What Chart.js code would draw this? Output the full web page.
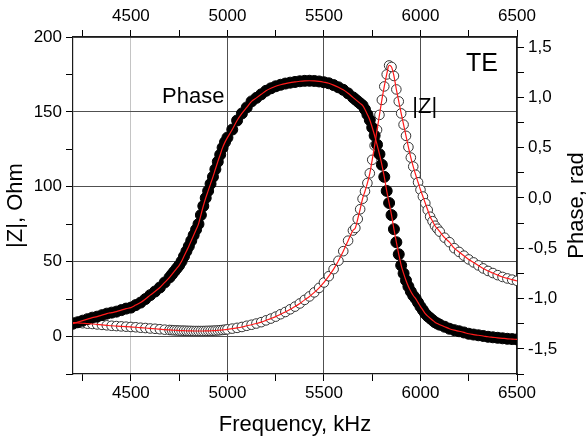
<!DOCTYPE html>
<html>
<head>
<meta charset="utf-8">
<script src="https://cdn.jsdelivr.net/npm/chart.js@4.4.1/dist/chart.umd.min.js"></script>
<style>
    html, body { margin: 0; padding: 0; background: #ffffff; }
    #chart { display: block; }
</style>
</head>
<body>
<canvas id="chart" width="587" height="440"></canvas>
<script>
// Frequency in kHz (x axis), finer steps where the curves are steep
const freqKHz = [
    4200, 4225, 4250, 4275, 4300, 4325, 4350, 4375, 4400, 4425, 4450, 4475,
    4500, 4525, 4550, 4575, 4600, 4625, 4650, 4675, 4700,
    4712.5, 4725, 4737.5, 4750, 4762.5, 4775, 4787.5, 4800, 4812.5, 4825, 4837.5, 4850,
    4862.5, 4875, 4887.5, 4900, 4912.5, 4925, 4937.5, 4950, 4962.5, 4975, 4987.5, 5000,
    5025, 5050, 5075, 5100, 5125, 5150, 5175, 5200, 5225, 5250, 5275, 5300, 5325,
    5350, 5375, 5400, 5425, 5450, 5475, 5500, 5525, 5550, 5575, 5600, 5625, 5650,
    5662.5, 5675, 5687.5, 5700, 5712.5, 5725, 5737.5, 5750, 5762.5, 5775, 5787.5, 5800,
    5812.5, 5825, 5837.5, 5850, 5862.5, 5875, 5887.5, 5900, 5912.5, 5925, 5937.5, 5950,
    5962.5, 5975, 5987.5, 6000, 6012.5, 6025, 6037.5, 6050, 6062.5, 6075, 6087.5, 6100,
    6125, 6150, 6175, 6200, 6225, 6250, 6275, 6300, 6325, 6350, 6375, 6400,
    6425, 6450, 6475, 6500
];

// |Z| in Ohm (left axis)
const zMagOhm = [
    9.4, 9.1, 8.9, 8.6, 8.4, 8.1, 7.8, 7.5, 7.2, 7.0, 6.8, 6.6,
    6.4, 6.2, 5.9, 5.7, 5.4, 5.2, 4.9, 4.6, 4.4,
    4.3, 4.2, 4.1, 4.0, 3.95, 3.9, 3.85, 3.8, 3.75, 3.7, 3.7, 3.7,
    3.7, 3.7, 3.75, 3.8, 3.85, 3.9, 4.0, 4.1, 4.25, 4.4, 4.6, 4.8,
    5.3, 5.8, 6.4, 7.2, 7.9, 8.7, 9.6, 10.8, 12.0, 13.3, 14.9, 16.4, 18.2,
    20.0, 22.1, 24.5, 26.8, 29.5, 32.5, 36.1, 40.3, 45.0, 50.6, 57.0, 64.0, 70.8,
    72.5, 78.5, 85, 92, 97, 102.5, 109, 118, 127.5, 138, 148, 158,
    167, 175, 181, 180, 174, 165, 157, 149, 141.5, 134, 126.5, 119.5,
    113.5, 108, 103, 98, 93.5, 89, 84.5, 80, 77, 74, 72, 70,
    66, 63, 59, 56.5, 54, 51.5, 49.5, 47.5, 45.5, 43.8, 42.4, 41,
    39.8, 38.8, 38, 37.2
];

// Phase in rad (right axis)
const phaseRad = [
    -1.25, -1.235, -1.22, -1.205, -1.19, -1.18, -1.165, -1.15, -1.14, -1.13, -1.115, -1.10,
    -1.09, -1.065, -1.04, -1.005, -0.966, -0.93, -0.89, -0.84, -0.79,
    -0.76, -0.73, -0.70, -0.67, -0.63, -0.58, -0.53, -0.48, -0.425, -0.37, -0.315, -0.26,
    -0.17, -0.08, 0.00, 0.07, 0.14, 0.21, 0.285, 0.36, 0.43, 0.50, 0.555, 0.60,
    0.68, 0.77, 0.84, 0.90, 0.96, 0.995, 1.03, 1.065, 1.09, 1.11, 1.125, 1.137, 1.146,
    1.153, 1.16, 1.164, 1.165, 1.163, 1.158, 1.15, 1.14, 1.122, 1.10, 1.075, 1.04, 1.00,
    0.98, 0.96, 0.94, 0.92, 0.88, 0.83, 0.775, 0.70, 0.62, 0.53, 0.435, 0.33,
    0.21, 0.07, -0.05, -0.17, -0.31, -0.44, -0.56, -0.67, -0.75, -0.82, -0.88, -0.93,
    -0.97, -1.00, -1.04, -1.08, -1.115, -1.15, -1.175, -1.195, -1.215, -1.235, -1.248, -1.26,
    -1.28, -1.30, -1.314, -1.325, -1.337, -1.35, -1.358, -1.365, -1.372, -1.38, -1.385, -1.39,
    -1.395, -1.40, -1.403, -1.406
];

// Tick positions (labels only on the major ones)
const freqTicks = [4250, 4500, 4750, 5000, 5250, 5500, 5750, 6000, 6250, 6500];
const zTicks = [-25, 0, 25, 50, 75, 100, 125, 150, 175, 200];
const phaseTicks = [-1.75, -1.5, -1.25, -1, -0.75, -0.5, -0.25, 0, 0.25, 0.5, 0.75, 1, 1.25, 1.5];

// Text labels inside the plot: [text, freq, |Z| value]
const plotLabels = [
    ['Phase', 4823, 160],
    ['|Z|', 6022, 153],
    ['TE', 6318, 182]
];

const FONT = "'Liberation Sans', Arial, sans-serif";

const zPoints = freqKHz.map((f, i) => ({ x: f, y: zMagOhm[i] }));
const phasePoints = freqKHz.map((f, i) => ({ x: f, y: phaseRad[i] }));

const setTicks = values => scale => { scale.ticks = values.map(v => ({ value: v })); };

const xLabel = v => (v % 500 === 0 ? String(v) : '');
const zLabel = v => (v >= 0 && v % 50 === 0 ? String(v) : '');
const phaseLabel = v => (Math.abs(v * 2 - Math.round(v * 2)) < 1e-6 ? v.toFixed(1).replace('.', ',') : '');

function xGridColor(ctx) {
    const v = ctx.tick ? ctx.tick.value : null;
    if (v === 4500) return '#c4c4c4';
    if (v !== null && v % 500 === 0) return '#505050';
    return 'rgba(0,0,0,0)';
}

function yGridColor(ctx) {
    const v = ctx.tick ? ctx.tick.value : null;
    if (v !== null && v >= 0 && v % 50 === 0) return '#505050';
    return 'rgba(0,0,0,0)';
}

// right axis title (reads bottom to top) and the labels inside the plot
const textPlugin = {
    id: 'textPlugin',
    afterDraw(chart) {
        const ctx = chart.ctx;
        const area = chart.chartArea;
        const xs = chart.scales.x;
        const ys = chart.scales.y;

        ctx.save();
        ctx.fillStyle = '#000';
        ctx.textAlign = 'center';
        ctx.textBaseline = 'middle';

        ctx.save();
        ctx.translate(577, (area.top + area.bottom) / 2);
        ctx.rotate(-Math.PI / 2);
        ctx.font = `22px ${FONT}`;
        ctx.fillText('Phase, rad', 0, 0);
        ctx.restore();

        plotLabels.forEach(([text, f, z]) => {
            ctx.font = (text === 'TE' ? '25px ' : '22px ') + FONT;
            ctx.fillText(text, xs.getPixelForValue(f), ys.getPixelForValue(z));
        });
        ctx.restore();
    }
};

const tickFont = { family: FONT, size: 17 };
const titleFont = { family: FONT, size: 22 };

new Chart(document.getElementById('chart'), {
    type: 'line',
    data: {
        datasets: [
            {
                label: 'fit |Z|',
                data: zPoints,
                yAxisID: 'y',
                borderColor: '#ff1a1a',
                borderWidth: 1.2,
                pointRadius: 0,
                cubicInterpolationMode: 'monotone',
                clip: 0,
                order: 0
            },
            {
                label: 'fit phase',
                data: phasePoints,
                yAxisID: 'y2',
                borderColor: '#ff1a1a',
                borderWidth: 1.2,
                pointRadius: 0,
                cubicInterpolationMode: 'monotone',
                clip: 0,
                order: 1
            },
            {
                label: 'Phase',
                data: phasePoints,
                yAxisID: 'y2',
                showLine: false,
                pointRadius: 5.5,
                pointBackgroundColor: '#000',
                pointBorderColor: '#000',
                pointBorderWidth: 1,
                clip: 0,
                order: 2
            },
            {
                label: '|Z|',
                data: zPoints,
                yAxisID: 'y',
                showLine: false,
                pointRadius: 4.8,
                pointBackgroundColor: '#ffffff',
                pointBorderColor: '#333333',
                pointBorderWidth: 1,
                clip: 0,
                order: 3
            }
        ]
    },
    options: {
        responsive: false,
        animation: false,
        devicePixelRatio: 1,
        layout: { padding: 0 },
        plugins: {
            legend: { display: false },
            tooltip: { enabled: false }
        },
        scales: {
            x: {
                type: 'linear',
                position: 'bottom',
                min: 4200,
                max: 6500,
                afterFit: s => { s.height = 66; },
                afterBuildTicks: setTicks(freqTicks),
                ticks: {
                    autoSkip: false,
                    maxRotation: 0,
                    padding: 2,
                    color: '#000',
                    font: tickFont,
                    callback: xLabel
                },
                grid: { color: xGridColor, tickColor: '#000', tickLength: 7, lineWidth: 1 },
                border: { color: '#1a1a1a', width: 1.2 },
                title: {
                    display: true,
                    text: 'Frequency, kHz',
                    color: '#000',
                    font: titleFont,
                    padding: { top: 0, bottom: 2 }
                }
            },
            x2: {
                type: 'linear',
                position: 'top',
                min: 4200,
                max: 6500,
                afterFit: s => { s.height = 37; },
                afterBuildTicks: setTicks(freqTicks),
                ticks: {
                    autoSkip: false,
                    maxRotation: 0,
                    padding: 3,
                    color: '#000',
                    font: tickFont,
                    callback: xLabel
                },
                grid: { drawOnChartArea: false, tickColor: '#000', tickLength: 7 },
                border: { color: '#1a1a1a', width: 1.2 }
            },
            y: {
                type: 'linear',
                position: 'left',
                min: -25,
                max: 200,
                afterFit: s => { s.width = 73; },
                afterBuildTicks: setTicks(zTicks),
                ticks: {
                    autoSkip: false,
                    padding: 4,
                    color: '#000',
                    font: tickFont,
                    callback: zLabel
                },
                grid: { color: yGridColor, tickColor: '#000', tickLength: 7, lineWidth: 1 },
                border: { color: '#1a1a1a', width: 1.2 },
                title: {
                    display: true,
                    text: '|Z|, Ohm',
                    color: '#000',
                    font: titleFont,
                    padding: { top: 3, bottom: 0 }
                }
            },
            y2: {
                type: 'linear',
                position: 'right',
                min: -1.75,
                max: 1.6,
                afterFit: s => { s.width = 70; },
                afterBuildTicks: setTicks(phaseTicks),
                ticks: {
                    autoSkip: false,
                    padding: 4,
                    color: '#000',
                    font: tickFont,
                    callback: phaseLabel
                },
                grid: { drawOnChartArea: false, tickColor: '#000', tickLength: 7 },
                border: { color: '#1a1a1a', width: 1.2 }
            }
        }
    },
    plugins: [textPlugin]
});
</script>
</body>
</html>
